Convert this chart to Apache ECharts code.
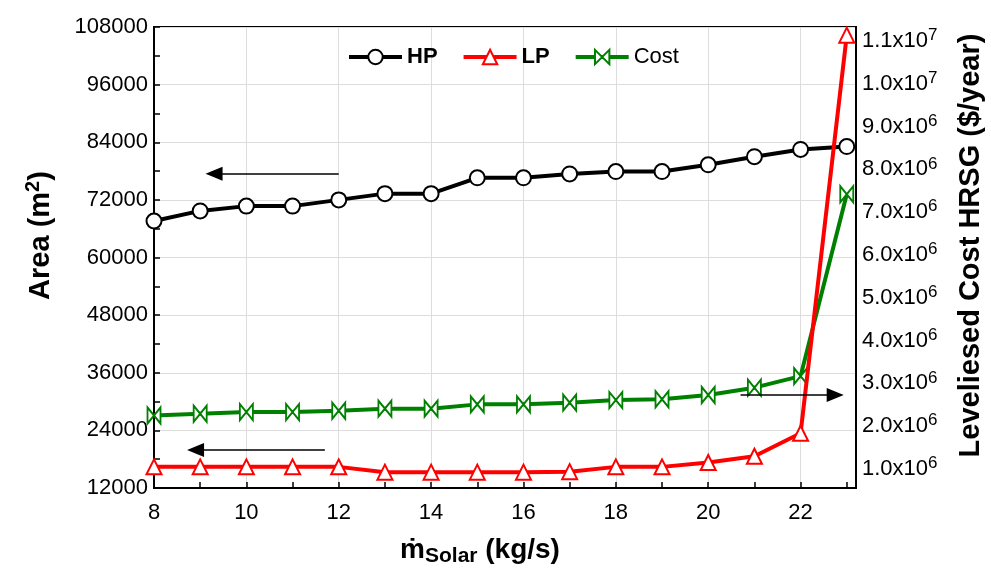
<!DOCTYPE html>
<html>
<head>
<meta charset="utf-8">
<script src="https://cdn.jsdelivr.net/npm/echarts@6/dist/echarts.min.js"></script>
<style>
  html, body { margin: 0; padding: 0; background: #fff; }
  #chart { width: 991px; height: 572px; }
</style>
</head>
<body>
<div id="chart"></div>
<script>
// mass flow of solar steam (kg/s)
const massFlow = [8, 9, 10, 11, 12, 13, 14, 15, 16, 17, 18, 19, 20, 21, 22, 23];
// HRSG heat-transfer area, m2
const hpArea = [67600, 69700, 70700, 70700, 72000, 73300, 73300, 76600, 76600, 77400, 77900, 77900, 79300, 81000, 82500, 83100];
const lpArea = [16400, 16400, 16400, 16400, 16400, 15300, 15300, 15300, 15300, 15400, 16400, 16400, 17300, 18600, 23400, 106300];
// levelised cost, $/year
const costHrsg = [2250000, 2290000, 2330000, 2330000, 2360000, 2410000, 2410000, 2510000, 2510000, 2550000, 2610000, 2630000, 2730000, 2900000, 3170000, 7420000];
const costTicks = [1e6, 2e6, 3e6, 4e6, 5e6, 6e6, 7e6, 8e6, 9e6, 1e7, 1.1e7];

// the three "which axis" arrows, in data units
const hpArrow = [[12, 77450], [9.3, 77450]];
const lpArrow = [[11.7, 19900], [8.9, 19900]];
const costArrow = [[20.7, 2730000], [22.75, 2730000]];

const FONT = "'Liberation Sans', Arial, 'DejaVu Sans', sans-serif";

const pairs = (ys) => massFlow.map((x, i) => [x, ys[i]]);

const sci = (v) => {
  const e = Math.floor(Math.log10(v) + 1e-9);
  const m = v / Math.pow(10, e);
  return '{n|' + m.toFixed(1) + 'x10}{sup|' + e + '}';
};

const arrow = (pts) => ({
  silent: true,
  animation: false,
  symbol: ['none', 'triangle'],
  symbolSize: [14, 17],
  label: { show: false },
  emphasis: { disabled: true },
  lineStyle: { color: '#000', width: 1.5, type: 'solid' },
  data: [[{ coord: pts[0] }, { coord: pts[1] }]]
});

const tickStyle = { color: '#000', width: 1.5 };

const chart = echarts.init(document.getElementById('chart'));

chart.setOption({
  animation: false,
  textStyle: { fontFamily: FONT },
  grid: {
    left: 154, right: 135, top: 27, bottom: 84,
    outerBoundsMode: 'none',
    show: true, borderColor: '#000', borderWidth: 2, backgroundColor: 'transparent'
  },
  legend: {
    left: 342, top: 41,
    itemWidth: 53, itemHeight: 18, itemGap: 24,
    lineStyle: { width: 4 },
    textStyle: { fontSize: 22, color: '#000', fontFamily: FONT },
    data: [
      { name: 'HP', textStyle: { fontWeight: 'bold' } },
      { name: 'LP', textStyle: { fontWeight: 'bold' } },
      { name: 'Cost' }
    ]
  },
  xAxis: {
    type: 'value',
    min: 8, max: 23.2, interval: 2,
    name: '{m|ṁ}{sub|Solar}{m| (kg/s)}',
    nameLocation: 'middle', nameGap: 45,
    nameTextStyle: {
      padding: [0, 50, 0, 0],
      rich: {
        m: { fontSize: 28, fontWeight: 'bold', color: '#000', fontFamily: FONT, lineHeight: 34 },
        sub: { fontSize: 21, fontWeight: 'bold', color: '#000', fontFamily: FONT, verticalAlign: 'bottom', lineHeight: 21 }
      }
    },
    axisLine: { show: true, onZero: false, lineStyle: { color: '#000', width: 2 } },
    axisTick: { show: true, inside: true, length: 6, lineStyle: tickStyle },
    minorTick: { show: true, splitNumber: 2, length: 6, lineStyle: tickStyle },
    splitLine: { show: true, lineStyle: { color: '#dddddd', width: 1 } },
    axisLabel: { fontSize: 22, color: '#000', margin: 14, fontFamily: FONT, showMaxLabel: false }
  },
  yAxis: [
    {
      type: 'value',
      position: 'left',
      min: 12000, max: 108000, interval: 12000,
      name: 'Area (m{sup|2})',
      nameLocation: 'middle', nameGap: 95,
      nameTextStyle: {
        fontSize: 29, fontWeight: 'bold', color: '#000', fontFamily: FONT, lineHeight: 36,
        padding: [0, 0, 0, 44],
        rich: {
          sup: { fontSize: 20, fontWeight: 'bold', color: '#000', fontFamily: FONT, verticalAlign: 'top', lineHeight: 20 }
        }
      },
      axisLine: { show: true, lineStyle: { color: '#000', width: 2 } },
      axisTick: { show: true, inside: true, length: 6, lineStyle: tickStyle },
      minorTick: { show: true, splitNumber: 2, length: 6, lineStyle: tickStyle },
      splitLine: { show: true, lineStyle: { color: '#dddddd', width: 1 } },
      axisLabel: { fontSize: 22, color: '#000', margin: 6, fontFamily: FONT, formatter: (v) => String(v) }
    },
    {
      type: 'value',
      position: 'right',
      min: 556000, max: 11327000,
      name: 'Leveliesed Cost HRSG ($/year)',
      nameLocation: 'middle', nameGap: 100,
      nameTextStyle: {
        fontSize: 29, fontWeight: 'bold', color: '#000', fontFamily: FONT,
        padding: [0, 0, 0, 24]
      },
      axisLine: { show: true, lineStyle: { color: '#000', width: 2 } },
      axisTick: { show: false },
      splitLine: { show: false },
      axisLabel: {
        customValues: costTicks,
        margin: 6,
        formatter: sci,
        rich: {
          n: { fontSize: 22, color: '#000', fontFamily: FONT, lineHeight: 28 },
          sup: { fontSize: 17, color: '#000', fontFamily: FONT, verticalAlign: 'top', lineHeight: 17 }
        }
      }
    }
  ],
  series: [
    {
      name: 'HP', type: 'line', yAxisIndex: 0, z: 3,
      data: pairs(hpArea),
      symbol: 'circle', symbolSize: 15,
      lineStyle: { color: '#000', width: 4 },
      itemStyle: { color: '#fff', borderColor: '#000', borderWidth: 2 },
      emphasis: { disabled: true },
      markLine: arrow(hpArrow)
    },
    {
      name: 'LP', type: 'line', yAxisIndex: 0, z: 4,
      data: pairs(lpArea),
      symbol: 'triangle', symbolSize: [15, 15],
      lineStyle: { color: '#ff0000', width: 4 },
      itemStyle: { color: '#fff', borderColor: '#ff0000', borderWidth: 2 },
      emphasis: { disabled: true },
      markLine: arrow(lpArrow)
    },
    {
      name: 'Cost', type: 'line', yAxisIndex: 1, z: 2,
      data: pairs(costHrsg),
      symbol: 'path://M0,0 L0,10 L10,0 L10,10 Z', symbolSize: [13, 16], symbolKeepAspect: false,
      lineStyle: { color: '#008000', width: 4 },
      itemStyle: { color: '#fff', borderColor: '#008000', borderWidth: 2 },
      emphasis: { disabled: true },
      markLine: arrow(costArrow)
    }
  ]
});
</script>
</body>
</html>
